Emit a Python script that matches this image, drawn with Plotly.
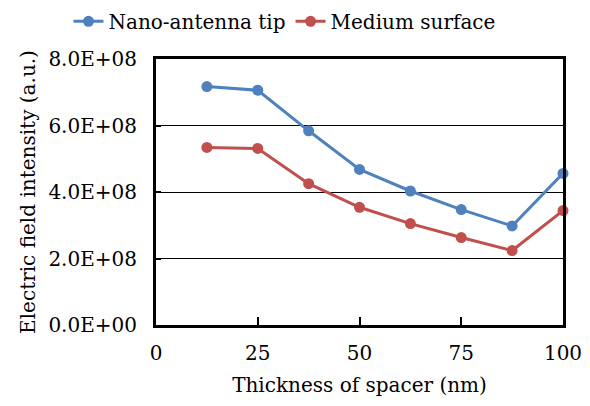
import plotly.graph_objects as go

thickness = [12.5, 25, 37.5, 50, 62.5, 75, 87.5, 100]
tip = [7.17e8, 7.06e8, 5.84e8, 4.68e8, 4.03e8, 3.47e8, 2.98e8, 4.56e8]
surface = [5.34e8, 5.31e8, 4.25e8, 3.54e8, 3.05e8, 2.63e8, 2.24e8, 3.44e8]
y_ticks = [0, 2e8, 4e8, 6e8, 8e8]
y_labels = ["0.0E+00", "2.0E+08", "4.0E+08", "6.0E+08", "8.0E+08"]
x_ticks = [0, 25, 50, 75, 100]

font = "DejaVu Serif"
fig = go.Figure()
fig.add_trace(go.Scatter(x=thickness, y=tip, mode="lines+markers", name="Nano-antenna tip", cliponaxis=False,
                         line=dict(color="#4F81BD", width=3), marker=dict(size=11, color="#4F81BD")))
fig.add_trace(go.Scatter(x=thickness, y=surface, mode="lines+markers", name="Medium surface", cliponaxis=False,
                         line=dict(color="#C0504D", width=3), marker=dict(size=11, color="#C0504D")))

fig.update_layout(
    width=590, height=406,
    margin=dict(l=156, r=27, t=59, b=81, autoexpand=False),
    paper_bgcolor="white", plot_bgcolor="white",
    font=dict(family=font, size=20, color="black"),
    showlegend=True,
    legend=dict(orientation="h", xref="paper", x=-0.215, xanchor="left",
                yref="paper", y=1.215, yanchor="top",
                font=dict(family=font, size=20), itemwidth=30, bgcolor="rgba(0,0,0,0)"),
    xaxis=dict(range=[0, 100], tickvals=x_ticks, ticks="inside", ticklen=8, tickwidth=2, tickcolor="black",
               showline=True, linecolor="black", linewidth=3, mirror=True, showgrid=False, zeroline=False,
               ticklabelstandoff=8, tickfont=dict(family=font, size=20),
               title=dict(text="Thickness of spacer (nm)", standoff=14, font=dict(family=font, size=20))),
    yaxis=dict(range=[0, 8e8], tickvals=y_ticks, ticktext=y_labels, ticks="inside", ticklen=5, tickwidth=2,
               tickcolor="black", showline=True, linecolor="black", linewidth=3, mirror=True,
               showgrid=True, gridcolor="black", gridwidth=1, zeroline=False,
               ticklabelstandoff=12, tickfont=dict(family=font, size=20),
               title=dict(text="Electric field intensity (a.u.)", standoff=8, font=dict(family=font, size=20))),
)
fig.write_html("out.html")
